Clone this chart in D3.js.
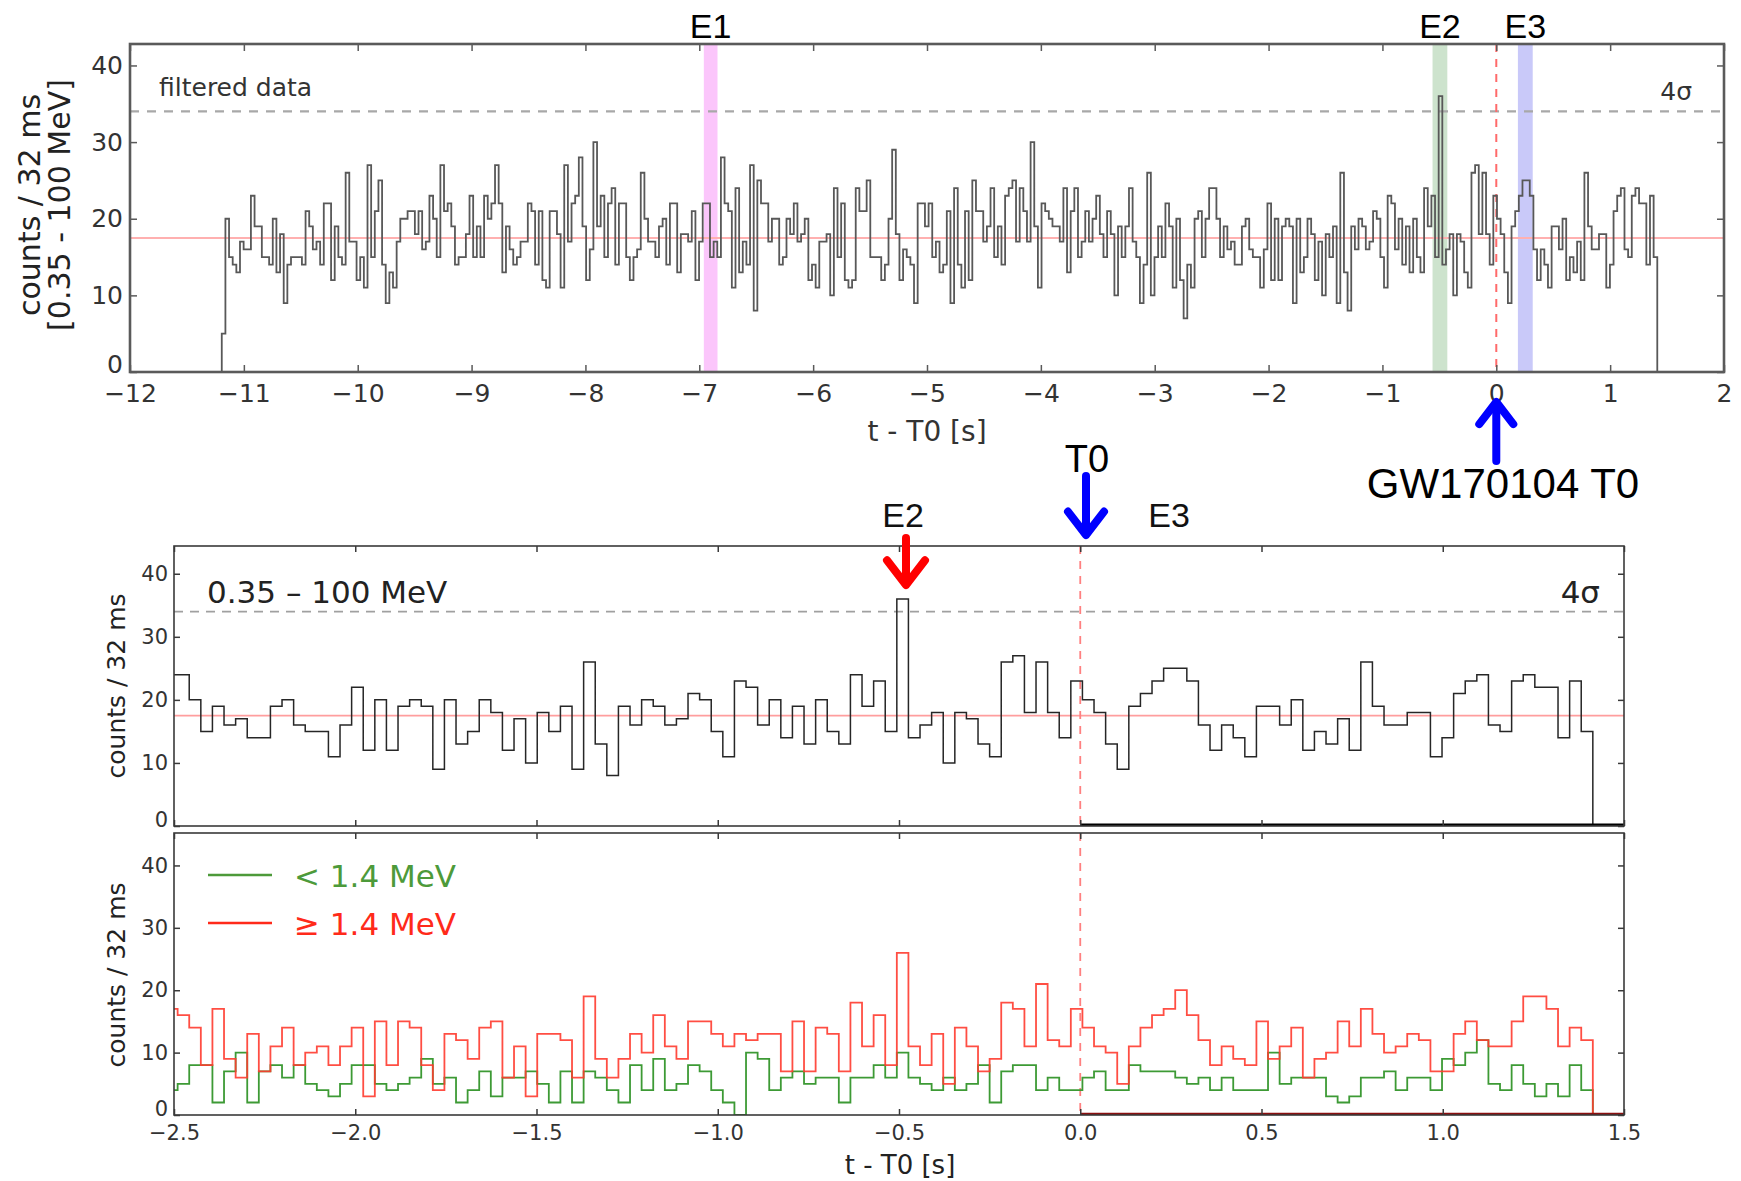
<!DOCTYPE html>
<html><head><meta charset="utf-8">
<script src="https://cdn.jsdelivr.net/npm/d3@7"></script>
<style>html,body{margin:0;padding:0;background:#fff;}svg{display:block;}</style>
</head><body>
<svg id="chart" width="1741" height="1181"></svg>
<script>
// ---------------- data ----------------
const binWidth = 0.032;          // s
const dataEnd = 1.414;           // end of last bin (s)
const sigma4 = 34;               // 4 sigma threshold (counts)
const background = 17.5;         // mean background (counts)

// top panel, filtered data before -2.522 s (counts / 32 ms)
const topEarly = [5,
20,15,14,13,17,16,16,23,19,19,15,15,14,20,13,18,9,14,15,15,15,14,21,19,16,17,14,22,22,12,19,15,14,26,17,17,12,15,11,27,15,21,25,14,9,13,11,17,20,20,21,21,18,21,
16,17,23,20,15,27,21,22,19,14,15,15,18,23,15,19,15,23,20,22,27,22,13,19,16,14,15,17,17,22,21,14,21,12,11,21,21,18,11,27,17,22,23,28,19,12,16,30,19,23,15,22,24,14,22,
22,15,12,15,16,26,20,17,17,15,19,20,14,22,22,13,18,18,17,21,12,17,22,22,15,17,15,28,22,21,11,24,13,17,14,27,8,25,22,22,17,20,20,14,15,20,18,22,17,18,20,12,14,11,17,
17,18,10,24,15,22,12,11,12,24,21,21,25,15,15,15,12,14,20,29,18,12,16,15,14,9,22,22,19,22,15,17,13,14,21,9,24,14,11,21,12,25,21,21,17,19,24,15,19,14,23,24,25,17,24,
21,17,30,19,11,22,21,20,19,19,17,24,13,21,24,15,17,21,17,20,23,18,15,21,18,10,19,15,19,24,17,15,9,14,26,10,15,19,15,22,19,11,20,12,7,14,11,20,21,15,20];

// 0.35 - 100 MeV, from -2.522 s to 1.414 s
const totalCounts = [24,24,20,15,19,16,17,14,14,19,20,16,15,15,11,16,22,12,20,12,19,20,19,9,20,13,15,20,18,12,17,10,18,15,19,9,26,13,8,19,16,20,19,16,17,21,20,15,11,23,22,16,20,14,19,13,20,15,13,24,19,23,15,
36,
14,16,18,10,18,17,13,11,26,27,18,26,18,14,23,20,18,13,9,19,21,23,25,25,23,16,12,16,14,11,19,19,16,20,12,15,13,17,12,26,19,16,16,18,18,11,14,21,23,24,16,15,23,24,22,22,14,23,15];

// < 1.4 MeV
const lowCounts = [4,5,8,8,2,7,10,2,7,8,6,8,5,4,3,5,8,8,5,4,5,6,9,5,6,2,4,7,3,6,6,7,5,2,7,2,7,6,4,2,8,4,9,4,5,8,7,4,2,0,10,9,4,6,7,5,6,6,2,6,6,8,6,
10,
6,5,4,6,4,5,8,2,7,8,8,4,6,4,4,6,7,4,4,8,7,7,7,6,5,6,4,6,4,4,4,10,5,6,6,6,3,2,3,6,6,7,4,6,6,4,9,8,10,12,5,4,8,5,3,5,3,8,4];

// >= 1.4 MeV
const highCounts = [17,16,14,8,17,9,6,13,7,11,14,8,10,11,8,11,14,3,15,8,15,14,8,4,13,12,9,14,15,6,11,3,13,13,12,6,19,9,6,9,13,10,16,11,9,15,15,13,11,13,12,13,13,7,15,7,14,13,7,18,11,16,8,
26,
11,8,13,5,14,11,7,9,18,17,11,21,12,11,17,14,11,10,5,11,14,16,17,20,16,12,8,11,9,8,15,9,11,14,6,9,10,15,11,17,13,10,11,13,12,7,7,13,15,12,11,11,15,19,19,17,11,14,12];

// highlighted intervals in the top panel
const eventNames  = ["E1", "E2", "E3"];
const eventStart  = [-6.96, -0.56, 0.19];
const eventEnd    = [-6.84, -0.43, 0.32];
const eventColors = ["rgba(245,120,245,0.42)", "rgba(70,150,70,0.27)", "rgba(60,60,235,0.28)"];

const topXTicks = d3.range(-12, 3, 1);
const yTicks = [0, 10, 20, 30, 40];
const zoomXTicks = [-2.5, -2.0, -1.5, -1.0, -0.5, 0.0, 0.5, 1.0, 1.5];

// ---------------- drawing ----------------
const svg = d3.select("#chart");
const tickFont = "DejaVu Sans";
const annFont = "Liberation Sans";

function stepPoints(vals, start, leftEdge, rightEdge) {
  const pts = [[leftEdge, 0]];
  vals.forEach((v, i) => pts.push([start + i * binWidth, v]));
  pts.push([start + vals.length * binWidth, 0]);
  pts.push([rightEdge, 0]);
  return pts;
}

function panel(cfg) {
  const g = svg.append("g");
  const {x, y} = cfg;
  const [x0, x1] = x.range();
  const [y0, y1] = y.range();
  const id = "clip" + cfg.name;
  svg.append("clipPath").attr("id", id).append("rect")
    .attr("x", x0).attr("y", y1).attr("width", x1 - x0).attr("height", y0 - y1);
  const inner = g.append("g").attr("clip-path", `url(#${id})`);
  return {g, inner, x0, x1, y0, y1};
}

function drawAxes(p, x, y, opts) {
  const g = p.g;
  const ax = d3.axisBottom(x).tickValues(opts.xTicks).tickSize(-opts.tick).tickPadding(opts.xPad)
    .tickFormat(opts.xLabels ? opts.xFmt : () => "");
  const gb = g.append("g").attr("transform", `translate(0,${p.y0})`).call(ax);
  const at = d3.axisTop(x).tickValues(opts.xTicks).tickSize(-opts.tick).tickFormat(() => "");
  const gt = g.append("g").attr("transform", `translate(0,${p.y1})`).call(at);
  const al = d3.axisLeft(y).tickValues(yTicks).tickSize(-opts.tick).tickPadding(opts.yPad).tickFormat(d3.format("d"));
  const gl = g.append("g").attr("transform", `translate(${p.x0},0)`).call(al);
  const ar = d3.axisRight(y).tickValues(yTicks).tickSize(-opts.tick).tickFormat(() => "");
  const gr = g.append("g").attr("transform", `translate(${p.x1},0)`).call(ar);
  [gb, gt, gl, gr].forEach(a => {
    a.select(".domain").remove();
    a.selectAll(".tick line").attr("stroke", opts.frameColor).attr("stroke-width", 1.5);
    a.selectAll("text").attr("font-family", tickFont).attr("font-size", opts.fontSize).attr("fill", "#333");
  });
  // lift the "0" y label slightly so it clears the x labels
  gl.selectAll(".tick").filter(d => d === 0).select("text").attr("dy", "0.0em");
  g.append("rect").attr("x", p.x0).attr("y", p.y1).attr("width", p.x1 - p.x0).attr("height", p.y0 - p.y1)
    .attr("fill", "none").attr("stroke", opts.frameColor).attr("stroke-width", opts.frameWidth);
}

function hline(p, x, y, val, color, width, dash) {
  p.inner.append("line").attr("x1", p.x0).attr("x2", p.x1).attr("y1", y(val)).attr("y2", y(val))
    .attr("stroke", color).attr("stroke-width", width).attr("stroke-dasharray", dash || null);
}
function vline(p, x, val, color, width, dash) {
  p.inner.append("line").attr("x1", x(val)).attr("x2", x(val)).attr("y1", p.y1).attr("y2", p.y0)
    .attr("stroke", color).attr("stroke-width", width).attr("stroke-dasharray", dash || null);
}
function arrow(xp, yTail, yTip, hw, color) {
  const dir = yTip > yTail ? -1 : 1;
  const yArm = yTip + dir * hw * 1.3;
  const g = svg.append("g").attr("stroke", color).attr("fill", "none")
    .attr("stroke-width", 8).attr("stroke-linecap", "round").attr("stroke-linejoin", "round");
  g.append("line").attr("x1", xp).attr("x2", xp).attr("y1", yTail).attr("y2", yTip + dir * 3);
  g.append("polyline").attr("points", `${xp - hw},${yArm} ${xp},${yTip} ${xp + hw},${yArm}`);
}

// ===== top panel =====
const xT = d3.scaleLinear([-12, 2], [130, 1724]);
const yT = d3.scaleLinear([0, 42.8], [372, 44]);
const pT = panel({name: "T", x: xT, y: yT});
eventNames.forEach((n, i) => {
  pT.inner.append("rect").attr("x", xT(eventStart[i])).attr("width", xT(eventEnd[i]) - xT(eventStart[i]))
    .attr("y", pT.y1).attr("height", pT.y0 - pT.y1).attr("fill", eventColors[i]);
});
hline(pT, xT, yT, sigma4, "#a8a8a8", 2.2, "9,8");
hline(pT, xT, yT, background, "#ffb0b0", 2);
vline(pT, xT, 0, "#ff6a6a", 2, "8,7");
const topVals = topEarly.concat(totalCounts);
const topStart = dataEnd - topVals.length * binWidth;
const lineT = d3.line().x(d => xT(d[0])).y(d => yT(d[1])).curve(d3.curveStepAfter);
pT.inner.append("path").attr("d", lineT(stepPoints(topVals, topStart, -12, 2)))
  .attr("fill", "none").attr("stroke", "#585858").attr("stroke-width", 1.8);
drawAxes(pT, xT, yT, {xTicks: topXTicks, xLabels: true, xFmt: d3.format("d"), tick: 7, xPad: 12, yPad: 7,
  fontSize: 25, frameColor: "#5a5a5a", frameWidth: 2.6});
svg.append("text").attr("x", 159).attr("y", 96).attr("font-family", tickFont).attr("font-size", 25)
  .attr("fill", "#333").text("filtered data");
svg.append("text").attr("x", 1692).attr("y", 100).attr("text-anchor", "end").attr("font-family", tickFont)
  .attr("font-size", 25).attr("fill", "#333").text("4σ");
svg.append("text").attr("x", 927).attr("y", 441).attr("text-anchor", "middle").attr("font-family", tickFont)
  .attr("font-size", 28).attr("fill", "#333").text("t - T0 [s]");
svg.append("text").attr("transform", "translate(40,205) rotate(-90)").attr("text-anchor", "middle")
  .attr("font-family", tickFont).attr("font-size", 30).attr("fill", "#222").text("counts / 32 ms");
svg.append("text").attr("transform", "translate(70,205) rotate(-90)").attr("text-anchor", "middle")
  .attr("font-family", tickFont).attr("font-size", 30).attr("fill", "#222").text("[0.35 - 100 MeV]");
eventNames.forEach((n, i) => {
  svg.append("text").attr("x", xT((eventStart[i] + eventEnd[i]) / 2)).attr("y", 38).attr("text-anchor", "middle")
    .attr("font-family", annFont).attr("font-size", 34).attr("fill", "#000").text(n);
});
arrow(xT(0), 461, 402, 17, "#0000ff");
svg.append("text").attr("x", 1503).attr("y", 498).attr("text-anchor", "middle").attr("font-family", annFont)
  .attr("font-size", 42).attr("fill", "#000").text("GW170104 T0");

// ===== middle panel =====
const xM = d3.scaleLinear([-2.5, 1.5], [174, 1624]);
const yM = d3.scaleLinear([0, 44.4], [826, 546]);
const pM = panel({name: "M", x: xM, y: yM});
hline(pM, xM, yM, sigma4, "#a0a0a0", 1.8, "9,7");
hline(pM, xM, yM, background, "#ff9e9e", 1.8);
vline(pM, xM, 0, "#ff8080", 1.8, "8,7");
const zStart = dataEnd - totalCounts.length * binWidth;
const lineM = d3.line().x(d => xM(d[0])).y(d => yM(d[1])).curve(d3.curveStepAfter);
pM.inner.append("path").attr("d", lineM(stepPoints(totalCounts, zStart, zStart, 1.5)))
  .attr("fill", "none").attr("stroke", "#262626").attr("stroke-width", 1.5);
pM.inner.append("line").attr("x1", xM(0)).attr("x2", xM(1.5)).attr("y1", yM(0) - 1).attr("y2", yM(0) - 1)
  .attr("stroke", "#000").attr("stroke-width", 3);
drawAxes(pM, xM, yM, {xTicks: zoomXTicks, xLabels: false, tick: 6, xPad: 6, yPad: 6,
  fontSize: 21, frameColor: "#3a3a3a", frameWidth: 1.6});
svg.append("text").attr("x", 207).attr("y", 603).attr("font-family", tickFont).attr("font-size", 31)
  .attr("fill", "#222").text("0.35 – 100 MeV");
svg.append("text").attr("x", 1600).attr("y", 603).attr("text-anchor", "end").attr("font-family", tickFont)
  .attr("font-size", 31).attr("fill", "#222").text("4σ");
svg.append("text").attr("transform", "translate(125,686) rotate(-90)").attr("text-anchor", "middle")
  .attr("font-family", tickFont).attr("font-size", 25).attr("fill", "#222").text("counts / 32 ms");

svg.append("text").attr("x", 1087).attr("y", 472).attr("text-anchor", "middle").attr("font-family", annFont)
  .attr("font-size", 38).attr("fill", "#000").text("T0");
arrow(1086, 476, 535, 18, "#0000ff");
svg.append("text").attr("x", 903).attr("y", 527).attr("text-anchor", "middle").attr("font-family", annFont)
  .attr("font-size", 34).attr("fill", "#111").text("E2");
arrow(906, 538, 585, 19, "#ff0000");
svg.append("text").attr("x", 1169).attr("y", 527).attr("text-anchor", "middle").attr("font-family", annFont)
  .attr("font-size", 34).attr("fill", "#111").text("E3");

// ===== bottom panel =====
const yB = d3.scaleLinear([0, 45.2], [1115, 833]);
const pB = panel({name: "B", x: xM, y: yB});
vline(pB, xM, 0, "#ff8080", 1.8, "8,7");
const lineB = d3.line().x(d => xM(d[0])).y(d => yB(d[1])).curve(d3.curveStepAfter);
pB.inner.append("path").attr("d", lineB(stepPoints(lowCounts, zStart, zStart, 1.5)))
  .attr("fill", "none").attr("stroke", "#3d9a35").attr("stroke-width", 1.8);
pB.inner.append("path").attr("d", lineB(stepPoints(highCounts, zStart, zStart, 1.5)))
  .attr("fill", "none").attr("stroke", "#ff3b2f").attr("stroke-width", 1.8).attr("opacity", 0.9);
pB.inner.append("line").attr("x1", xM(0)).attr("x2", xM(1.5)).attr("y1", yB(0) - 1).attr("y2", yB(0) - 1)
  .attr("stroke", "#8a1010").attr("stroke-width", 2.5);
drawAxes(pB, xM, yB, {xTicks: zoomXTicks, xLabels: true, xFmt: d3.format(".1f"), tick: 6, xPad: 10, yPad: 6,
  fontSize: 21, frameColor: "#3a3a3a", frameWidth: 1.6});
svg.append("text").attr("transform", "translate(125,975) rotate(-90)").attr("text-anchor", "middle")
  .attr("font-family", tickFont).attr("font-size", 25).attr("fill", "#222").text("counts / 32 ms");
svg.append("text").attr("x", 900).attr("y", 1174).attr("text-anchor", "middle").attr("font-family", tickFont)
  .attr("font-size", 26).attr("fill", "#222").text("t - T0 [s]");
const legendLabels = ["< 1.4 MeV", "≥ 1.4 MeV"];
const legendColors = ["#4d9a3a", "#ff2a1a"];
legendLabels.forEach((l, i) => {
  const yy = 875 + i * 48;
  svg.append("line").attr("x1", 208).attr("x2", 272).attr("y1", yy).attr("y2", yy)
    .attr("stroke", legendColors[i]).attr("stroke-width", 2.5);
  svg.append("text").attr("x", 294).attr("y", yy + 12).attr("font-family", tickFont).attr("font-size", 31)
    .attr("fill", legendColors[i]).text(l);
});
</script>
</body></html>
